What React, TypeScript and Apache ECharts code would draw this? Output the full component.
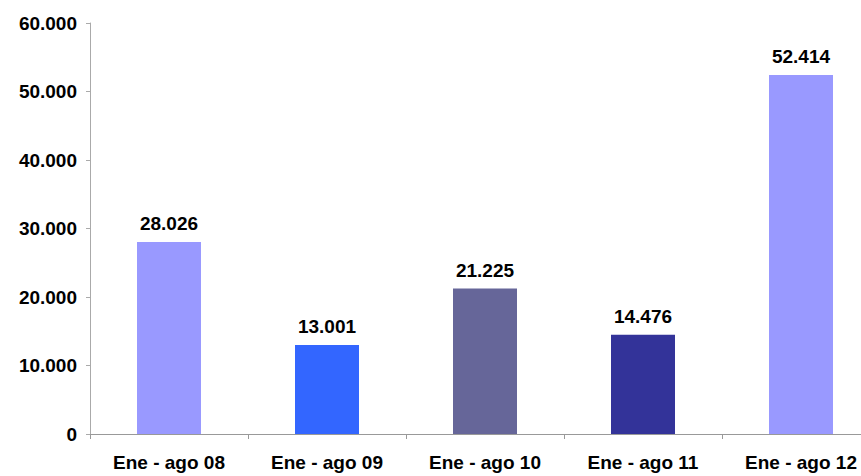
import React, { useEffect, useRef } from "react";
import * as echarts from "echarts";

const categories = ["Ene - ago 08", "Ene - ago 09", "Ene - ago 10", "Ene - ago 11", "Ene - ago 12"];
const values = [28026, 13001, 21225, 14476, 52414];
const barColors = ["#9999FF", "#3366FF", "#666699", "#333399", "#9999FF"];
const yTicks = { min: 0, max: 60000, interval: 10000 };

const fmt = (v: number) => {
  const s = Math.round(v).toString();
  return s.replace(/\B(?=(\d{3})+(?!\d))/g, ".");
};

export default function App() {
  const ref = useRef<HTMLDivElement>(null);
  useEffect(() => {
    if (!ref.current) return;
    const chart = echarts.init(ref.current, null, { renderer: "svg" });
    const font = "Liberation Sans, Arial, sans-serif";
    chart.setOption({
      animation: false,
      backgroundColor: "#ffffff",
      grid: { left: 90, right: 0, top: 23, bottom: 42, containLabel: false },
      xAxis: {
        type: "category",
        data: categories,
        axisLine: { lineStyle: { color: "#999999", width: 1 } },
        axisTick: { show: true, length: 5, alignWithLabel: false, lineStyle: { color: "#999999" } },
        axisLabel: { color: "#000", fontSize: 19, fontWeight: "bold", fontFamily: font, margin: 19, interval: 0 },
        splitLine: { show: false },
      },
      yAxis: {
        type: "value",
        min: yTicks.min,
        max: yTicks.max,
        interval: yTicks.interval,
        axisLine: { show: true, lineStyle: { color: "#aaaaaa", width: 1 } },
        axisTick: { show: true, length: 4, lineStyle: { color: "#aaaaaa" } },
        axisLabel: { color: "#000", fontSize: 19, fontWeight: "bold", fontFamily: font, margin: 13, formatter: (v: number) => fmt(v) },
        splitLine: { show: false },
      },
      series: [
        {
          type: "bar",
          data: values.map((v, i) => ({ value: v, itemStyle: { color: barColors[i] } })),
          barWidth: 64,
          label: {
            show: true,
            position: "top",
            distance: 9,
            color: "#000",
            fontSize: 19,
            fontWeight: "bold",
            fontFamily: font,
            formatter: (p: any) => fmt(p.value),
          },
        },
      ],
    });
    return () => chart.dispose();
  }, []);
  return (
    <div style={{ width: 861, height: 476, position: "absolute", left: 0, top: 0, overflow: "hidden" }}>
      <div ref={ref} style={{ width: 880, height: 476 }} />
    </div>
  );
}
